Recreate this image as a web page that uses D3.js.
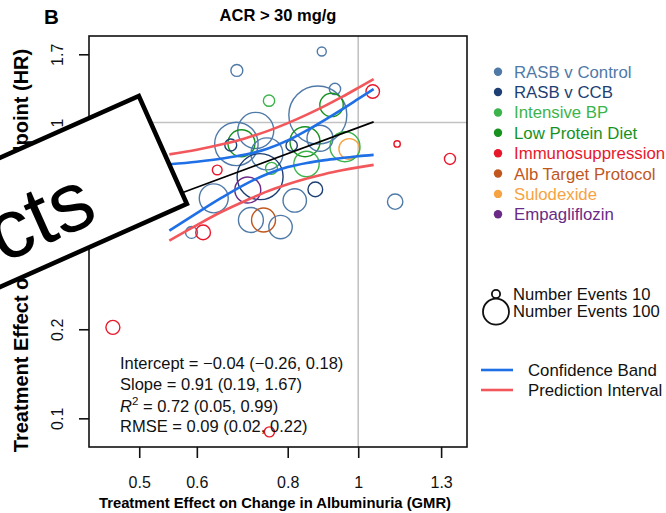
<!DOCTYPE html>
<html>
<head>
<meta charset="utf-8">
<script src="https://cdn.jsdelivr.net/npm/d3@7"></script>
<style>
  html, body { margin: 0; padding: 0; background: #fff; }
  svg { display: block; font-family: "Liberation Sans", Arial, Helvetica, sans-serif; }
</style>
</head>
<body>
<svg id="chart" width="666" height="513"></svg>
<script>
// Trial-level treatment effects: albuminuria change (GMR) vs clinical endpoint (HR)
const groups = ["RASB v Control", "RASB v CCB", "Intensive BP", "Low Protein Diet",
                "Immunosuppression", "Alb Target Protocol", "Sulodexide", "Empagliflozin"];
const groupColors = ["#4f7aa8", "#1d3f73", "#3cb44b", "#17921f",
                     "#e8182c", "#c0571f", "#f6a343", "#6a2a86"];

const studyGroup = [
  "RASB v Control", "RASB v Control", "Intensive BP", "RASB v Control", "RASB v Control",
  "Low Protein Diet", "Immunosuppression", "Immunosuppression", "Immunosuppression", "RASB v Control",
  "Sulodexide", "Intensive BP", "Low Protein Diet", "RASB v Control", "RASB v CCB",
  "RASB v Control", "RASB v Control", "Low Protein Diet", "RASB v CCB", "RASB v Control",
  "RASB v CCB", "Intensive BP", "Intensive BP", "Empagliflozin", "Immunosuppression",
  "RASB v Control", "RASB v Control", "RASB v CCB", "RASB v Control", "Alb Target Protocol",
  "RASB v Control", "RASB v Control", "Immunosuppression", "Immunosuppression", "Immunosuppression"
];
const studyGMR = [
  0.891, 0.681, 0.754, 0.929, 0.880,
  0.919, 1.047, 1.131, 1.337, 1.124,
  0.972, 0.959, 0.845, 0.886, 0.810,
  0.680, 0.723, 0.691, 0.668, 0.749,
  0.733, 0.760, 0.849, 0.705, 0.640,
  0.633, 0.818, 0.873, 0.712, 0.741,
  0.782, 0.590, 0.612, 0.460, 0.755
];
const studyHR = [
  1.738, 1.499, 1.185, 1.298, 1.060,
  1.146, 1.273, 0.846, 0.753, 0.540,
  0.814, 0.828, 0.861, 0.884, 0.836,
  0.846, 0.940, 0.851, 0.839, 0.783,
  0.656, 0.700, 0.724, 0.591, 0.691,
  0.554, 0.545, 0.594, 0.468, 0.468,
  0.443, 0.425, 0.425, 0.203, 0.090
];
const studyEvents = [
  12, 21, 19, 19, 498,
  81, 27, 6, 18, 35,
  63, 133, 133, 100, 19,
  279, 192, 108, 21, 151,
  313, 21, 95, 100, 14,
  124, 81, 32, 92, 85,
  81, 21, 32, 29, 15
];

// Meta-regression on the log scale and its bands
const intercept = -0.04;
const slope = 0.91;
const bandGMR = [0.55, 0.6, 0.65, 0.7, 0.75, 0.8, 0.85, 0.9, 0.95, 1.0, 1.05];
const ciUpper = [0.722, 0.737, 0.755, 0.779, 0.815, 0.870, 0.941, 1.021, 1.108, 1.201, 1.297];
const ciLower = [0.431, 0.494, 0.558, 0.619, 0.670, 0.707, 0.730, 0.746, 0.758, 0.769, 0.777];
const piUpper = [0.780, 0.809, 0.844, 0.885, 0.935, 0.995, 1.063, 1.138, 1.220, 1.309, 1.402];
const piLower = [0.399, 0.450, 0.500, 0.544, 0.585, 0.618, 0.646, 0.670, 0.689, 0.705, 0.719];

const xTicks = [0.5, 0.6, 0.8, 1, 1.3];
const yTicks = [0.1, 0.2, 1, 1.7];
const statLines = [
  "Intercept = \u22120.04 (\u22120.26, 0.18)",
  "Slope = 0.91 (0.19, 1.67)",
  " = 0.72 (0.05, 0.99)",
  "RMSE = 0.09 (0.02, 0.22)"
];
const sizeLegend = [10, 100];
const lineLegend = [["Confidence Band", "#1f6fe6"], ["Prediction Interval", "#f2575b"]];

const svg = d3.select("#chart");
const L = 89, R = 467, T = 36, B = 447;
const x = d3.scaleLog().domain([0.4265, 1.411]).range([L, R]);
const y = d3.scaleLog().domain([0.080, 1.96]).range([B, T]);
const r = d3.scaleSqrt().domain([0, 100]).range([0, 13]);
const color = d3.scaleOrdinal().domain(groups).range(groupColors);

// panel label and title
svg.append("text").attr("x", 44).attr("y", 24).attr("font-size", 20.5)
  .attr("font-weight", "bold").text("B");
svg.append("text").attr("x", (L + R) / 2).attr("y", 21).attr("text-anchor", "middle")
  .attr("font-size", 16.5).attr("font-weight", "bold").text("ACR > 30 mg/g");

// reference lines at no effect
svg.append("line").attr("x1", x(1)).attr("x2", x(1)).attr("y1", T).attr("y2", B)
  .attr("stroke", "#c2c2c2").attr("stroke-width", 1.6);
svg.append("line").attr("x1", L).attr("x2", R).attr("y1", y(1)).attr("y2", y(1))
  .attr("stroke", "#c2c2c2").attr("stroke-width", 1.6);

// study circles
const studies = studyGMR.map((g, i) => ({ g, hr: studyHR[i], n: studyEvents[i], grp: studyGroup[i] }));
svg.append("g").selectAll("circle").data(studies).join("circle")
  .attr("cx", d => x(d.g)).attr("cy", d => y(d.hr)).attr("r", d => r(d.n))
  .attr("fill", "none").attr("stroke", d => color(d.grp)).attr("stroke-width", 1.4);

// bands
const band = d3.line().x(d => x(d[0])).y(d => y(d[1])).curve(d3.curveMonotoneX);
const drawBand = (vals, col) => svg.append("path")
  .attr("d", band(bandGMR.map((g, i) => [g, vals[i]])))
  .attr("fill", "none").attr("stroke", col).attr("stroke-width", 2.6);
drawBand(piUpper, "#f2575b");
drawBand(piLower, "#f2575b");
drawBand(ciUpper, "#1f6fe6");
drawBand(ciLower, "#1f6fe6");

const gEnds = [bandGMR[0], bandGMR[bandGMR.length - 1]];
svg.append("path")
  .attr("d", d3.line().x(d => x(d)).y(d => y(Math.exp(intercept + slope * Math.log(d))))(gEnds))
  .attr("stroke", "#000").attr("stroke-width", 1.7).attr("fill", "none");

// frame
svg.append("rect").attr("x", L).attr("y", T).attr("width", R - L).attr("height", B - T)
  .attr("fill", "none").attr("stroke", "#111").attr("stroke-width", 1.6);

// axes
const xAxis = svg.append("g").attr("transform", `translate(0,${B})`)
  .call(d3.axisBottom(x).tickValues(xTicks).tickSize(11).tickFormat(d3.format("")));
xAxis.select(".domain").remove();
xAxis.selectAll("line").attr("stroke", "#111").attr("stroke-width", 1.6);
xAxis.selectAll("text").attr("y", 41).attr("dy", null).attr("font-size", 16)
  .attr("fill", "#111").attr("font-family", null);

const yAxis = svg.append("g").attr("transform", `translate(${L},0)`)
  .call(d3.axisLeft(y).tickValues(yTicks).tickSize(10).tickFormat(d3.format("")));
yAxis.select(".domain").remove();
yAxis.selectAll("line").attr("stroke", "#111").attr("stroke-width", 1.6);
yAxis.selectAll("text").attr("transform", "rotate(-90)").attr("x", 0).attr("y", -26)
  .attr("dy", null).attr("text-anchor", "middle").attr("font-size", 16)
  .attr("fill", "#111").attr("font-family", null);

svg.append("text").attr("x", (L + R) / 2 - 3).attr("y", 508).attr("text-anchor", "middle")
  .attr("font-size", 14.8).attr("font-weight", "bold")
  .text("Treatment Effect on Change in Albuminuria (GMR)");
svg.append("text").attr("transform", "translate(28,250.5) rotate(-90)")
  .attr("text-anchor", "middle").attr("font-size", 20).attr("font-weight", "bold")
  .text("Treatment Effect on Clinical Endpoint (HR)");

// regression summary
const stats = svg.append("g").attr("font-size", 16.5).attr("fill", "#111");
const statY = [369, 390, 412, 432];
statLines.forEach((s, i) => {
  const t = stats.append("text").attr("x", 120).attr("y", statY[i]);
  if (i === 2) {
    t.append("tspan").attr("font-style", "italic").text("R");
    t.append("tspan").attr("dy", -7).attr("font-size", 11.5).text("2");
    t.append("tspan").attr("dy", 7).text(s);
  } else {
    t.text(s);
  }
});

// group legend
const leg = svg.append("g");
groups.forEach((gname, i) => {
  const cy = 71.7 + i * 20.37;
  leg.append("circle").attr("cx", 498).attr("cy", cy).attr("r", 4.2).attr("fill", color(gname));
  leg.append("text").attr("x", 514).attr("y", cy + 6).attr("font-size", 16.8)
    .attr("fill", color(gname)).text(gname);
});

// event-size legend
const sizeY = [294, 311.7];
sizeLegend.forEach((n, i) => {
  leg.append("circle").attr("cx", 496).attr("cy", sizeY[i]).attr("r", r(n))
    .attr("fill", "none").attr("stroke", "#111").attr("stroke-width", 1.8);
  leg.append("text").attr("x", 513).attr("y", sizeY[i] + 5.5).attr("font-size", 16.6)
    .attr("fill", "#111").text("Number Events " + n);
});

// band legend
lineLegend.forEach(([label, col], i) => {
  const ly = 370 + i * 20;
  leg.append("line").attr("x1", 481).attr("x2", 513).attr("y1", ly).attr("y2", ly)
    .attr("stroke", col).attr("stroke-width", 2.6);
  leg.append("text").attr("x", 528).attr("y", ly + 6).attr("font-size", 16.8)
    .attr("fill", "#111").text(label);
});

// tilted caption card on top
const card = svg.append("g").attr("transform", "translate(140,93) rotate(-24)");
card.append("rect").attr("x", -420).attr("y", 2.3).attr("width", 417.7).attr("height", 118)
  .attr("fill", "#fff").attr("stroke", "#000").attr("stroke-width", 4.6);
card.append("text").attr("x", -88).attr("y", 100).attr("text-anchor", "end")
  .attr("font-size", 84).attr("fill", "#000").text("Effects");
</script>
</body>
</html>
